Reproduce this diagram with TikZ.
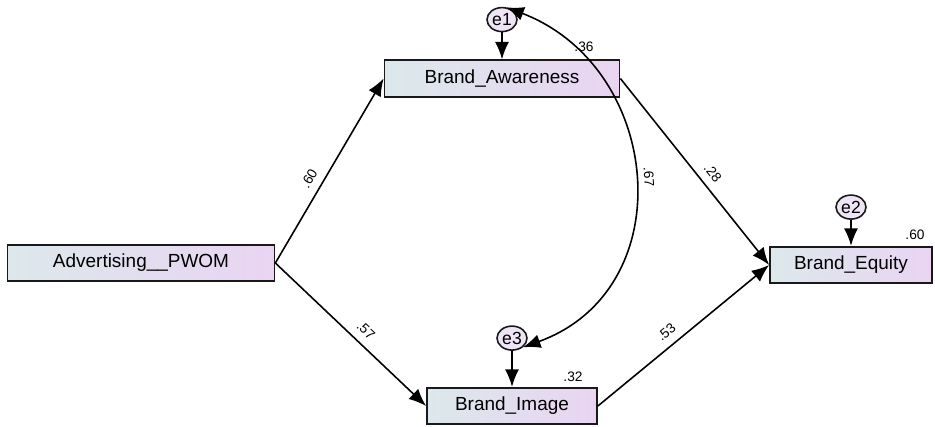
\documentclass[tikz,border=0pt]{standalone}
\usepackage{fontspec}
\setmainfont{Liberation Sans}
\usetikzlibrary{arrows.meta, positioning, shapes.geometric}
\definecolor{color1}{RGB}{220,232,236}
\definecolor{color2}{RGB}{234,212,242}
\definecolor{color3}{RGB}{238,228,246}

\begin{document}
\begin{tikzpicture}
        [
        x=0.02cm, y=-0.02cm,
            observada/.style={
                rectangle,
                draw=black!90,
                line width=1pt,
                left color=color1,
                right color=color2,
                minimum height=0.73cm,
                inner sep=0pt,
                font=\fontsize{10.8}{12}\selectfont
            },
            error/.style={
                ellipse,
                draw=black!90,
                line width=0.9pt,
                fill=color3,
                minimum width=0.6cm,
                minimum height=0.48cm,
                inner sep=0pt,
                font=\fontsize{10}{12}\selectfont
            },
            coef/.style={
                font=\fontsize{7.8}{9}\selectfont,
                inner sep=1.5pt
            },
            causal/.style={
                -{Latex[length=3.5mm,width=2.8mm]},
                line width=0.9pt
            },
            cov/.style={
                {Latex[length=3.5mm,width=2.8mm]}-{Latex[length=3.5mm,width=2.8mm]},
                line width=0.9pt
            }
        ]
        \useasboundingbox (0,0) rectangle (935,426);

        \node(adv) [observada, minimum width=5.34cm] at (141,263) {Advertising\_\_PWOM};
        \node(aw) [observada, minimum width=4.7cm] at (502,78.5) {Brand\_Awareness};
        \node(eq) [observada, minimum width=3.24cm] at (851,265) {Brand\_Equity};
        \node(img) [observada, minimum width=3.4cm] at (512,406) {Brand\_Image};

        \node(e1) [error, above=0.54cm of aw] {e1};
        \node(e2) [error, above=0.52cm of eq] {e2};
        \node(e3) [error, above=0.72cm of img] {e3};

        % R squared
        \node(r2aw) [coef] at (584,47) {.36};
        \node(r2eq) [coef] at (915,235) {.60};
        \node(r2img) [coef] at (573,377) {.32};

        \draw[causal] (e1)--(aw);
        \draw[causal] (e2)--(eq);
        \draw[causal] (e3)--(img);

        \draw[causal] (adv.east)-- node[coef, sloped, above=3pt, pos=0.42] {.60} (aw.west);
        \draw[causal] (adv.east)-- node[coef, sloped, above=3pt, pos=0.54] {.57} (img.west);
        \draw[causal] (aw.east)-- node[coef, sloped, above=3pt, pos=0.55] {.28} (eq.west);
        \draw[causal] (img.east)-- node[coef, sloped, above=3pt, pos=0.45] {.53} (eq.west);

        \draw[cov] (e1.70) .. controls +(157,60) and +(160,-58) .. node[coef, sloped, above=4pt, pos=0.5] {.67} (e3.-40);
    \end{tikzpicture}
\end{document}
